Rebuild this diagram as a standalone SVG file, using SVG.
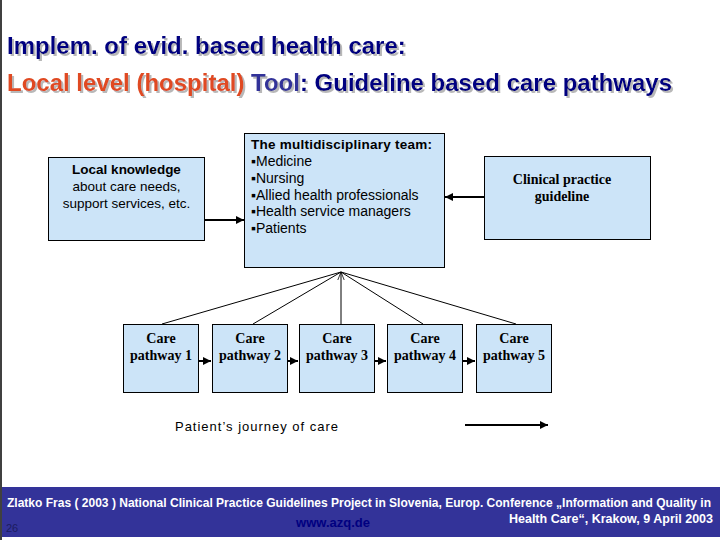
<svg xmlns="http://www.w3.org/2000/svg" width="720" height="540" viewBox="0 0 720 540">
<defs>
<style>
.box{fill:#cce4f8;stroke:#000;stroke-width:1}
.sans{font-family:"Liberation Sans",Arial,sans-serif}
.serif{font-family:"Liberation Serif","Times New Roman",serif;font-weight:bold;font-size:14px;fill:#000}
.title{font-family:"Liberation Sans",Arial,sans-serif;font-weight:bold;font-size:24px}
.conn{stroke:#000;fill:none}
.foot{font-family:"Liberation Sans Narrow","Liberation Sans",Arial,sans-serif;font-weight:bold;font-size:12.5px;fill:#fff}
</style>
<filter id="shadow" x="-5%" y="-30%" width="110%" height="160%">
<feDropShadow dx="2" dy="2" stdDeviation="0.3" flood-color="#b8b8b8" flood-opacity="1"/>
</filter>
<marker id="ah" viewBox="0 0 10 10" refX="10" refY="5" markerWidth="4" markerHeight="4" orient="auto" markerUnits="strokeWidth">
<path d="M0,0 L10,5 L0,10 z" fill="#000"/>
</marker>
<marker id="open" viewBox="0 0 10 10" refX="10" refY="5" markerWidth="8" markerHeight="8" orient="auto" markerUnits="userSpaceOnUse">
<path d="M0,1 L10,5 L0,9" fill="none" stroke="#000" stroke-width="1"/>
</marker>
</defs>
<rect width="720" height="540" fill="#fff"/>
<line x1="1" y1="0" x2="1" y2="540" stroke="#000" stroke-width="1.5"/>

<g id="title" filter="url(#shadow)">
<text class="title" x="7" y="54" fill="#000080">Implem. of evid. based health care:</text>
<text class="title" x="7" y="91"><tspan fill="#e04a22">Local level (hospital) </tspan><tspan fill="#333399">Tool</tspan><tspan fill="#000080">: Guideline based care pathways</tspan></text>
</g>

<g id="connectors">
<line class="conn" x1="205" y1="220" x2="244" y2="220" stroke-width="2" marker-end="url(#ah)"/>
<line class="conn" x1="484" y1="197" x2="445" y2="197" stroke-width="2" marker-end="url(#ah)"/>
<line class="conn" x1="341" y1="324" x2="341" y2="272" stroke-width="1" marker-end="url(#open)"/>
<line class="conn" x1="162" y1="324" x2="341" y2="272" stroke-width="1"/>
<line class="conn" x1="253" y1="324" x2="341" y2="272" stroke-width="1"/>
<line class="conn" x1="423" y1="324" x2="341" y2="272" stroke-width="1"/>
<line class="conn" x1="516" y1="324" x2="341" y2="272" stroke-width="1"/>
<line class="conn" x1="199" y1="361" x2="211" y2="361" stroke-width="2" marker-end="url(#ah)"/>
<line class="conn" x1="288" y1="361" x2="298" y2="361" stroke-width="2" marker-end="url(#ah)"/>
<line class="conn" x1="374" y1="361" x2="386" y2="361" stroke-width="2" marker-end="url(#ah)"/>
<line class="conn" x1="462" y1="361" x2="475" y2="361" stroke-width="2" marker-end="url(#ah)"/>
<line class="conn" x1="465" y1="425" x2="548" y2="425" stroke-width="2" marker-end="url(#ah)"/>
</g>

<g id="local">
<rect class="box" x="48.5" y="157.5" width="156" height="83"/>
<text class="sans" x="126.5" y="174" text-anchor="middle" font-size="13.5" font-weight="bold">Local knowledge</text>
<text class="sans" x="126.5" y="191" text-anchor="middle" font-size="13.5">about care needs,</text>
<text class="sans" x="126.5" y="208" text-anchor="middle" font-size="13.5">support services, etc.</text>
</g>

<g id="team">
<rect class="box" x="244.5" y="133.5" width="200" height="134"/>
<text class="sans" x="251" y="149" font-size="13.5" font-weight="bold" textLength="181">The multidisciplinary team:</text>
<g class="sans" font-size="14">
<text x="251" y="166">▪Medicine</text>
<text x="251" y="183">▪Nursing</text>
<text x="251" y="200">▪Allied health professionals</text>
<text x="251" y="216">▪Health service managers</text>
<text x="251" y="233">▪Patients</text>
</g>
</g>

<g id="guideline">
<rect class="box" x="484.5" y="156.5" width="166" height="83"/>
<text class="serif" x="562" y="184" text-anchor="middle">Clinical practice</text>
<text class="serif" x="562" y="201" text-anchor="middle">guideline</text>
</g>

<g id="cp1">
<rect class="box" x="123.5" y="324.5" width="75" height="68"/>
<text class="serif" x="161" y="343" text-anchor="middle">Care</text>
<text class="serif" x="161" y="360" text-anchor="middle">pathway 1</text>
</g>
<g id="cp2">
<rect class="box" x="212.5" y="324.5" width="75" height="68"/>
<text class="serif" x="250" y="343" text-anchor="middle">Care</text>
<text class="serif" x="250" y="360" text-anchor="middle">pathway 2</text>
</g>
<g id="cp3">
<rect class="box" x="299.5" y="324.5" width="75" height="68"/>
<text class="serif" x="337" y="343" text-anchor="middle">Care</text>
<text class="serif" x="337" y="360" text-anchor="middle">pathway 3</text>
</g>
<g id="cp4">
<rect class="box" x="387.5" y="324.5" width="75" height="68"/>
<text class="serif" x="425" y="343" text-anchor="middle">Care</text>
<text class="serif" x="425" y="360" text-anchor="middle">pathway 4</text>
</g>
<g id="cp5">
<rect class="box" x="476.5" y="324.5" width="75" height="68"/>
<text class="serif" x="514" y="343" text-anchor="middle">Care</text>
<text class="serif" x="514" y="360" text-anchor="middle">pathway 5</text>
</g>

<g id="journey">
<text class="sans" x="175" y="431" font-size="13" textLength="163">Patient’s journey of care</text>
</g>

<g id="footer">
<rect x="2" y="487" width="718" height="50" fill="#333399"/>
<text class="foot" x="7" y="507" textLength="704" lengthAdjust="spacingAndGlyphs">Zlatko Fras ( 2003 ) National Clinical Practice Guidelines Project in Slovenia, Europ. Conference „Information and Quality in</text>
<text class="foot" x="713" y="523" text-anchor="end">Health Care“, Krakow, 9 April 2003</text>
<text class="sans" x="333" y="527" text-anchor="middle" font-size="13" font-weight="bold" fill="#000080">www.azq.de</text>
<text class="sans" x="6" y="532" font-size="11" fill="#1c1c60">26</text>
</g>
</svg>
